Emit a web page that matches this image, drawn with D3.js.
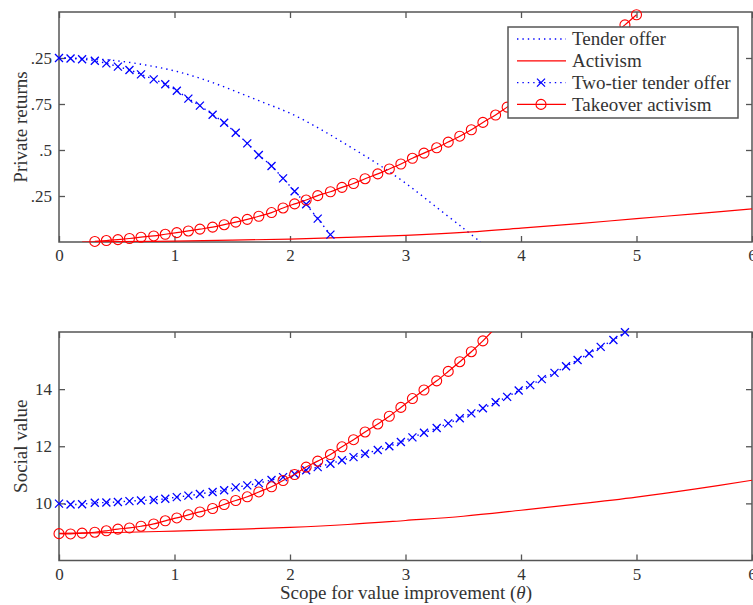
<!DOCTYPE html>
<html>
<head>
<meta charset="utf-8">
<script src="https://cdn.jsdelivr.net/npm/d3@7"></script>
<style>
  body { margin: 0; background: #fff; }
  text { font-family: "Liberation Serif", "Times New Roman", serif; fill: #333; }
</style>
</head>
<body>
<div id="chart"></div>
<script>
// marker grid (theta values of the plotted markers)
var theta = [0, 0.10, 0.20, 0.31, 0.41, 0.51, 0.61, 0.71, 0.82, 0.92, 1.02, 1.12, 1.22, 1.33, 1.43, 1.53, 1.63, 1.73, 1.84, 1.94,
  2.04, 2.14, 2.24, 2.35, 2.45, 2.55, 2.65, 2.76, 2.86, 2.96, 3.06, 3.16, 3.27, 3.37, 3.47, 3.57, 3.67, 3.78, 3.88, 3.98,
  4.08, 4.18, 4.29, 4.39, 4.49, 4.59, 4.69, 4.80, 4.90, 5.00];

// top panel: private returns
var twoTierPrivate = [1.0, 0.997, 0.993, 0.985, 0.971, 0.953, 0.935, 0.911, 0.884, 0.857, 0.822, 0.779, 0.741, 0.692, 0.648,
  0.594, 0.536, 0.473, 0.413, 0.346, 0.276, 0.205, 0.127, 0.04];
var takeoverPrivateStart = 3;
var takeoverPrivate = [0.003, 0.008, 0.013, 0.019, 0.026, 0.033, 0.042, 0.051, 0.06, 0.07, 0.081, 0.094, 0.108, 0.123, 0.14,
  0.16, 0.185, 0.207, 0.228, 0.252, 0.273, 0.297, 0.318, 0.344, 0.37, 0.397, 0.424, 0.455, 0.483, 0.512, 0.543, 0.575,
  0.61, 0.65, 0.69, 0.733, 0.775, 0.815, 0.855, 0.895, 0.94, 0.985, 1.03, 1.08, 1.13, 1.18, 1.235];
var tenderTheta = [0, 0.25, 0.5, 0.75, 1, 1.25, 1.5, 1.75, 2, 2.25, 2.5, 2.75, 3, 3.25, 3.5, 3.65];
var tenderPrivate = [1.0, 0.997, 0.985, 0.962, 0.93, 0.884, 0.826, 0.763, 0.70, 0.618, 0.525, 0.428, 0.32, 0.198, 0.075, 0.0];
var activismPrivateTheta = [0.2, 0.5, 1, 1.5, 2, 2.5, 3, 3.5, 4, 4.5, 5, 5.5, 6];
var activismPrivate = [0, 0.002, 0.005, 0.01, 0.016, 0.025, 0.036, 0.052, 0.075, 0.1, 0.127, 0.153, 0.18];

// bottom panel: social value
var twoTierSocial = [9.99, 9.96, 9.97, 10.02, 10.03, 10.05, 10.08, 10.1, 10.12, 10.16, 10.22, 10.27, 10.33, 10.4, 10.46,
  10.56, 10.63, 10.71, 10.82, 10.92, 11.03, 11.16, 11.27, 11.39, 11.51, 11.62, 11.74, 11.87, 12.0, 12.15, 12.31, 12.47,
  12.64, 12.8, 12.98, 13.15, 13.33, 13.54, 13.73, 13.95, 14.14, 14.35, 14.57, 14.8, 15.02, 15.25, 15.48, 15.72, 15.99];
var takeoverSocial = [8.94, 8.93, 8.96, 8.99, 9.04, 9.1, 9.14, 9.2, 9.28, 9.39, 9.49, 9.6, 9.7, 9.82, 9.96, 10.1, 10.23,
  10.4, 10.58, 10.8, 11.01, 11.27, 11.48, 11.71, 11.98, 12.23, 12.5, 12.78, 13.05, 13.36, 13.67, 13.97, 14.29, 14.62,
  14.96, 15.31, 15.69, 16.15];
var activismSocialTheta = [0, 0.5, 1, 1.5, 2, 2.5, 3, 3.5, 4, 4.5, 5, 5.5, 6];
var activismSocial = [8.95, 8.98, 9.03, 9.09, 9.16, 9.26, 9.4, 9.55, 9.76, 9.98, 10.22, 10.5, 10.81];

// axis ticks
var xTicks = [0, 1, 2, 3, 4, 5, 6];
var privateTicks = [0.25, 0.5, 0.75, 1.0];
var privateTickLabels = [".25", ".5", ".75", ".25"];
var socialTicks = [10, 12, 14];

var legendNames = ["Tender offer", "Activism", "Two-tier tender offer", "Takeover activism"];

var W = 753, H = 605;
var left = 59, right = 752;
var axisColor = "#555";

var svg = d3.select("#chart").append("svg")
  .attr("width", W)
  .attr("height", H);

var x = d3.scaleLinear().domain([0, 6]).range([left, right]);

function pts(ts, vs, start) {
  start = start || 0;
  return vs.map(function(v, i) { return {t: ts[start + i], v: v}; });
}

function drawPanel(id, top, bottom, yDomain, yTicks, yFormat, title, series) {
  var y = d3.scaleLinear().domain(yDomain).range([bottom, top]);
  var g = svg.append("g");

  g.append("clipPath").attr("id", "clip" + id)
    .append("rect").attr("x", left).attr("y", top).attr("width", right - left).attr("height", bottom - top);

  // box + inward ticks on all four sides
  var ax = [
    {a: d3.axisBottom(x).tickValues(xTicks).tickFormat(d3.format("d")), t: "translate(0," + bottom + ")"},
    {a: d3.axisTop(x).tickValues(xTicks).tickFormat(""), t: "translate(0," + top + ")"},
    {a: d3.axisLeft(y).tickValues(yTicks).tickFormat(yFormat), t: "translate(" + left + ",0)"},
    {a: d3.axisRight(y).tickValues(yTicks).tickFormat(""), t: "translate(" + right + ",0)"}
  ];
  ax.forEach(function(o) {
    var ga = g.append("g").attr("transform", o.t)
      .call(o.a.tickSizeInner(-6).tickSizeOuter(0).tickPadding(7));
    ga.select(".domain").remove();
    ga.selectAll("line").attr("stroke", axisColor).attr("stroke-width", 1.3);
    ga.selectAll("text").style("font-family", "Liberation Serif").style("font-size", "17px").attr("fill", "#333");
  });

  g.append("rect")
    .attr("x", left).attr("y", top).attr("width", right - left).attr("height", bottom - top)
    .attr("fill", "none").attr("stroke", axisColor).attr("stroke-width", 1.5);

  g.append("text")
    .attr("transform", "translate(27," + ((top + bottom) / 2) + ") rotate(-90)")
    .attr("text-anchor", "middle")
    .style("font-size", "19px")
    .text(title);

  var line = d3.line()
    .x(function(d) { return x(d.t); })
    .y(function(d) { return y(d.v); })
    .curve(d3.curveCatmullRom.alpha(0.5));

  series.forEach(function(s) {
    g.append("path")
      .attr("clip-path", "url(#clip" + id + ")")
      .attr("d", line(s.data))
      .attr("fill", "none")
      .attr("stroke", s.color)
      .attr("stroke-width", s.dash ? 1.4 : 1.2)
      .attr("stroke-dasharray", s.dash || null);

    if (!s.marker) return;
    var inside = s.data.filter(function(d) { return d.v >= yDomain[0] && d.v <= yDomain[1]; });
    var m = g.selectAll(null).data(inside).enter();
    if (s.marker === "o") {
      m.append("circle")
        .attr("cx", function(d) { return x(d.t); })
        .attr("cy", function(d) { return y(d.v); })
        .attr("r", 5)
        .attr("fill", "none").attr("stroke", s.color).attr("stroke-width", 1.1);
    } else {
      m.append("path")
        .attr("transform", function(d) { return "translate(" + x(d.t) + "," + y(d.v) + ")"; })
        .attr("d", "M-4,-4L4,4M-4,4L4,-4")
        .attr("fill", "none").attr("stroke", s.color).attr("stroke-width", 1.3);
    }
  });
}

drawPanel("top", 12, 242, [0, 1.25], privateTicks,
  function(d, i) { return privateTickLabels[i]; }, "Private returns", [
    {data: pts(tenderTheta, tenderPrivate), color: "#0000ff", dash: "1.4,4"},
    {data: pts(activismPrivateTheta, activismPrivate), color: "#ff0000"},
    {data: pts(theta, twoTierPrivate), color: "#0000ff", dash: "1.4,4", marker: "x"},
    {data: pts(theta, takeoverPrivate, takeoverPrivateStart), color: "#ff0000", marker: "o"}
  ]);

drawPanel("bottom", 332, 560.5, [8, 16], socialTicks, d3.format("d"), "Social value", [
  {data: pts(activismSocialTheta, activismSocial), color: "#ff0000"},
  {data: pts(theta, twoTierSocial), color: "#0000ff", dash: "1.4,4", marker: "x"},
  {data: pts(theta, takeoverSocial), color: "#ff0000", marker: "o"}
]);

// x axis title
var xt = svg.append("text")
  .attr("x", 406).attr("y", 599)
  .attr("text-anchor", "middle")
  .style("font-size", "19px");
xt.append("tspan").text("Scope for value improvement (");
xt.append("tspan").style("font-style", "italic").text("θ");
xt.append("tspan").text(")");

// legend
var lg = svg.append("g");
lg.append("rect")
  .attr("x", 508).attr("y", 27).attr("width", 230).attr("height", 91)
  .attr("fill", "#fff").attr("stroke", axisColor).attr("stroke-width", 1.5);

var legendStyle = [
  {color: "#0000ff", dash: "1.4,4"},
  {color: "#ff0000"},
  {color: "#0000ff", dash: "1.4,4", marker: "x"},
  {color: "#ff0000", marker: "o"}
];
legendNames.forEach(function(name, i) {
  var cy = 39 + i * 21.8;
  var st = legendStyle[i];
  lg.append("line")
    .attr("x1", 517).attr("x2", 566).attr("y1", cy).attr("y2", cy)
    .attr("stroke", st.color).attr("stroke-width", st.dash ? 1.4 : 1.2)
    .attr("stroke-dasharray", st.dash || null);
  if (st.marker === "o") {
    lg.append("circle").attr("cx", 541).attr("cy", cy).attr("r", 5)
      .attr("fill", "none").attr("stroke", st.color).attr("stroke-width", 1.1);
  } else if (st.marker === "x") {
    lg.append("path").attr("transform", "translate(541," + cy + ")")
      .attr("d", "M-4,-4L4,4M-4,4L4,-4")
      .attr("fill", "none").attr("stroke", st.color).attr("stroke-width", 1.3);
  }
  lg.append("text")
    .attr("x", 572).attr("y", cy).attr("dy", "0.33em")
    .style("font-size", "19px")
    .text(name);
});
</script>
</body>
</html>
